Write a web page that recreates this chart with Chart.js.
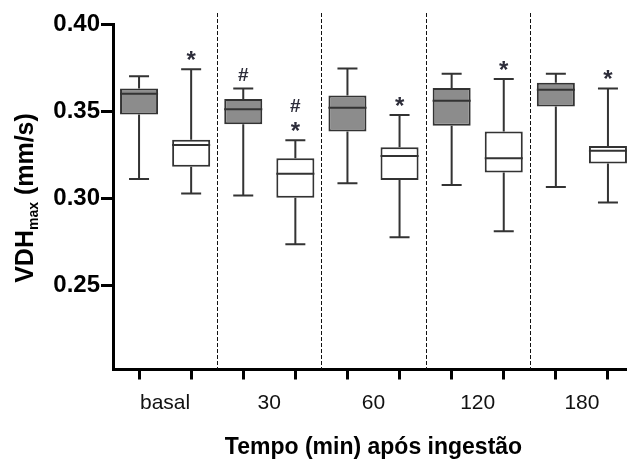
<!DOCTYPE html>
<html>
<head>
<meta charset="utf-8">
<script src="https://cdn.jsdelivr.net/npm/chart.js@4"></script>
<style>
  html, body { margin: 0; padding: 0; background: #fff; overflow: hidden; }
  canvas { display: block; }
</style>
</head>
<body>
<canvas id="chart" width="640" height="461"></canvas>
<script>
const groups = ["basal", "30", "60", "120", "180"];
const slots = ["", "", "", "", "", "", "", "", "", ""];
const yTicks = [0.25, 0.30, 0.35, 0.40];

// grey boxes
const greyMin = [0.311, 0.3015, 0.3086, 0.3076, 0.3065];
const greyQ1 = [0.348, 0.3425, 0.3383, 0.3416, 0.3527];
const greyMedian = [0.360, 0.351, 0.352, 0.356, 0.3622];
const greyQ3 = [0.363, 0.357, 0.359, 0.3632, 0.3663];
const greyMax = [0.370, 0.363, 0.3745, 0.3714, 0.3714];

// white boxes
const whiteMin = [0.3027, 0.2736, 0.2776, 0.281, 0.2975];
const whiteQ1 = [0.318, 0.3003, 0.3105, 0.3147, 0.3199];
const whiteMedian = [0.3305, 0.314, 0.3243, 0.323, 0.3272];
const whiteQ3 = [0.3335, 0.323, 0.3293, 0.3383, 0.330];
const whiteMax = [0.374, 0.3333, 0.3477, 0.3684, 0.363];

// significance marks, listed from the whisker upwards
const greyMarks = [[], ["#"], [], [], []];
const whiteMarks = [["*"], ["*", "#"], ["*"], ["*"], ["*"]];

const FONT = "'Liberation Sans', Arial, sans-serif";
const LINE = "#333";

const boxPlot = {
  id: "boxPlot",
  afterDatasetsDraw(chart) {
    const ctx = chart.ctx;
    const y = chart.scales.y;
    const x = chart.scales.x;
    const area = chart.chartArea;
    ctx.save();

    // dashed dividers between time points
    ctx.strokeStyle = "#111";
    ctx.lineWidth = 1;
    ctx.setLineDash([4, 2]);
    const top = y.getPixelForValue(0.40) - 11;
    for (let i = 1; i < groups.length; i++) {
      const px = Math.round((x.getPixelForValue(i - 1) + x.getPixelForValue(i)) / 2) + 0.5;
      ctx.beginPath();
      ctx.moveTo(px, top);
      ctx.lineTo(px, area.bottom);
      ctx.stroke();
    }
    ctx.setLineDash([]);

    // whiskers, medians, marks
    chart.data.datasets.forEach((ds, di) => {
      const meta = chart.getDatasetMeta(di);
      meta.data.forEach((bar, i) => {
        const cx = bar.x;
        const half = bar.width / 2;
        const pMin = y.getPixelForValue(ds.stats.min[i]);
        const pMax = y.getPixelForValue(ds.stats.max[i]);
        const pQ1 = y.getPixelForValue(ds.data[i][0]);
        const pQ3 = y.getPixelForValue(ds.data[i][1]);
        const pMed = y.getPixelForValue(ds.stats.median[i]);
        ctx.strokeStyle = LINE;
        ctx.lineWidth = 2;
        ctx.beginPath();
        ctx.moveTo(cx, pQ3); ctx.lineTo(cx, pMax);
        ctx.moveTo(cx - 10, pMax); ctx.lineTo(cx + 10, pMax);
        ctx.moveTo(cx, pQ1); ctx.lineTo(cx, pMin);
        ctx.moveTo(cx - 10, pMin); ctx.lineTo(cx + 10, pMin);
        ctx.moveTo(cx - half, pMed); ctx.lineTo(cx + half, pMed);
        ctx.stroke();

        ctx.fillStyle = "#2d2d3a";
        ctx.textAlign = "center";
        ctx.textBaseline = "alphabetic";
        ds.marks[i].forEach((m, k) => {
          ctx.font = m === "*" ? "bold 24px " + FONT : "bold 19px " + FONT;
          const mt = ctx.measureText(m);
          const cy = pMax - 14 - k * 21;
          ctx.fillText(m, cx, cy + (mt.actualBoundingBoxAscent - mt.actualBoundingBoxDescent) / 2);
        });
      });
    });

    // y axis title with subscript
    ctx.translate(24, 198);
    ctx.rotate(-Math.PI / 2);
    ctx.fillStyle = "#000";
    ctx.textAlign = "left";
    const parts = [
      { t: "VDH", f: "bold 25px " + FONT, dy: 0 },
      { t: "max", f: "bold 14px " + FONT, dy: 5 },
      { t: " (mm/s)", f: "bold 25px " + FONT, dy: 0 }
    ];
    let total = 0;
    parts.forEach(p => { ctx.font = p.f; p.w = ctx.measureText(p.t).width; total += p.w; });
    let tx = -total / 2;
    parts.forEach(p => {
      ctx.font = p.f;
      ctx.fillText(p.t, tx, 9 + p.dy);
      tx += p.w;
    });
    ctx.restore();
  }
};

new Chart(document.getElementById("chart"), {
  type: "bar",
  data: {
    labels: groups,
    datasets: [
      {
        label: "grey",
        xAxisID: "x",
        data: greyQ1.map((v, i) => [v, greyQ3[i]]),
        stats: { min: greyMin, median: greyMedian, max: greyMax },
        marks: greyMarks,
        backgroundColor: "#8c8c8c"
      },
      {
        label: "white",
        xAxisID: "x",
        data: whiteQ1.map((v, i) => [v, whiteQ3[i]]),
        stats: { min: whiteMin, median: whiteMedian, max: whiteMax },
        marks: whiteMarks,
        backgroundColor: "#ffffff"
      }
    ]
  },
  options: {
    responsive: false,
    animation: false,
    devicePixelRatio: 1,
    layout: { padding: { top: 24, right: 6, bottom: 0, left: 0 } },
    plugins: { legend: { display: false }, tooltip: { enabled: false } },
    datasets: {
      bar: {
        categoryPercentage: 1,
        barPercentage: 0.73,
        borderWidth: 2,
        borderColor: LINE,
        borderSkipped: false
      }
    },
    scales: {
      xt: {
        type: "category",
        labels: slots,
        position: "bottom",
        weight: 0,
        offset: true,
        grid: { offset: false, drawOnChartArea: false, drawTicks: true, tickLength: 10, lineWidth: 3, color: "#000" },
        border: { display: true, width: 3, color: "#000" },
        ticks: { display: false },
        afterFit: s => { s.height = 12; }
      },
      x: {
        type: "category",
        position: "bottom",
        weight: 1,
        offset: true,
        grid: { display: false },
        border: { display: false },
        ticks: { color: "#111", padding: 1, autoSkip: false, maxRotation: 0, font: { family: FONT, size: 21 } },
        title: {
          display: true,
          text: "Tempo (min) após ingestão",
          color: "#000",
          font: { family: FONT, size: 23, weight: "bold" },
          padding: { top: 0, bottom: 0 }
        },
        afterFit: s => { s.height = 79.5; }
      },
      y: {
        min: 0.2017,
        max: 0.40,
        afterBuildTicks: s => { s.ticks = yTicks.map(v => ({ value: v })); },
        ticks: { color: "#000", padding: 1, callback: v => v.toFixed(2), font: { family: FONT, size: 24, weight: "bold" } },
        grid: { drawOnChartArea: false, tickLength: 12, lineWidth: 3, color: "#000" },
        border: { width: 3, color: "#000" },
        afterFit: s => { s.width = 113; }
      }
    }
  },
  plugins: [boxPlot]
});
</script>
</body>
</html>
